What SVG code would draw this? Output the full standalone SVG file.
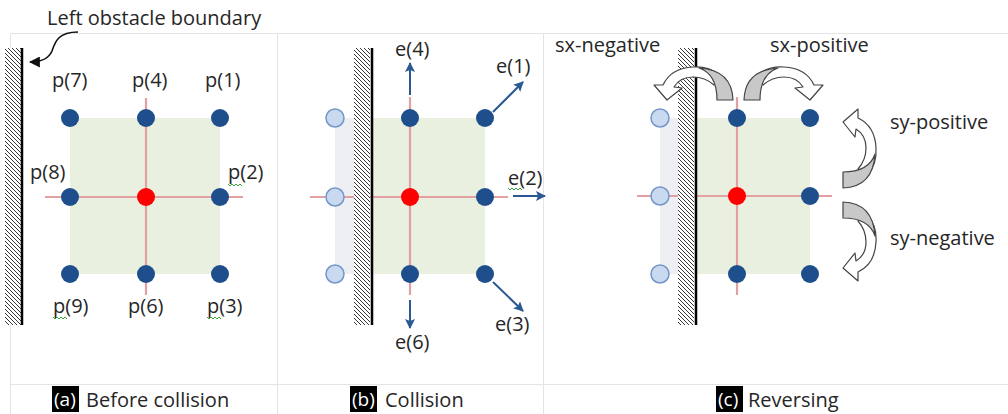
<svg xmlns="http://www.w3.org/2000/svg" width="1008" height="414" viewBox="0 0 1008 414">
<defs>
<pattern id="hatch" patternUnits="userSpaceOnUse" width="4" height="4">
<rect width="4" height="4" fill="#fff"/>
<path d="M0,0 L4,4 M-1,3 L1,5 M3,-1 L5,1" stroke="#222" stroke-width="0.9"/>
</pattern>
<marker id="ah" viewBox="0 0 10 10" refX="9" refY="5" markerWidth="10" markerHeight="10" markerUnits="userSpaceOnUse" orient="auto">
<path d="M0,0 L10,5 L0,10 L2,5 Z" fill="#2B5A93"/>
</marker>
<marker id="ahk" viewBox="0 0 10 10" refX="9" refY="5" markerWidth="11" markerHeight="11" markerUnits="userSpaceOnUse" orient="auto">
<path d="M0,0 L10,5 L0,10 Z" fill="#111"/>
</marker>
<g id="carrow">
<path d="M14,-25 Q24,-34 40,-33 Q62,-32 70,-15 L79,-15 L66,0 L51,-12 L59,-13 Q53,-23 40,-23 Q28,-23 19,-15 Z" fill="#fff" stroke="#444" stroke-width="1.2" stroke-linejoin="round"/>
<path d="M0,0 Q1,-30 34,-32 Q16,-26 16,0 Z" fill="#C8C8C8" stroke="#444" stroke-width="1.2" stroke-linejoin="round"/>
</g>
</defs>
<style>
text{font-family:"Open Sans","Liberation Sans",Arial,sans-serif;fill:#262626;font-size:20px}
.cap{font-size:20px}
.capbox{fill:#000}
.capt{fill:#fff;font-size:19px}
.grid{fill:none;stroke:#E4E4E4;stroke-width:1}
.green{fill:#E9F0DF}
.gray{fill:#EEEFF2}
.cross{stroke:#E2A0A0;stroke-width:2.2}
.dark{fill:#1F4E8C}
.light{fill:#C9DAF0;stroke:#7396C9;stroke-width:1.5}
.red{fill:#FF0000}
.hatch{fill:url(#hatch)}
.wall{stroke:#000;stroke-width:2.5}
.vec{stroke:#2B5A93;stroke-width:2;fill:none;marker-end:url(#ah)}
.squig{fill:none;stroke:#3DA33D;stroke-width:1}
</style>
<rect width="1008" height="414" fill="#fff"/>
<g id="frame">
<path class="grid" d="M10.5,33.5 H1008 M10.5,33.5 V414 M277.5,33.5 V414 M543.5,33.5 V414 M10.5,384.5 H1008"/>
</g>

<g id="panel-a">
<rect class="green" x="70" y="118" width="150" height="156"/>
<line class="cross" x1="146" y1="98" x2="146" y2="295"/>
<line class="cross" x1="45" y1="197" x2="243" y2="197"/>
<rect class="hatch" x="5" y="48" width="16" height="277"/>
<line class="wall" x1="22" y1="48" x2="22" y2="325"/>
<g id="a-p7"><circle class="dark" cx="70" cy="118" r="9"/><text x="52" y="87">p(7)</text></g>
<g id="a-p4"><circle class="dark" cx="146" cy="118" r="9"/><text x="132" y="87">p(4)</text></g>
<g id="a-p1"><circle class="dark" cx="220" cy="118" r="9"/><text x="205" y="87">p(1)</text></g>
<g id="a-p8"><circle class="dark" cx="70" cy="197" r="9"/><text x="30" y="179">p(8)</text></g>
<g id="a-c"><circle class="red" cx="146" cy="197" r="9"/></g>
<g id="a-p2"><circle class="dark" cx="220" cy="197" r="9"/><text x="228" y="179">p(2)</text></g>
<g id="a-p9"><circle class="dark" cx="70" cy="274" r="9"/><text x="53" y="313">p(9)</text></g>
<g id="a-p6"><circle class="dark" cx="146" cy="274" r="9"/><text x="128" y="313">p(6)</text></g>
<g id="a-p3"><circle class="dark" cx="220" cy="274" r="9"/><text x="207" y="313">p(3)</text></g>
<g id="label-boundary"><text x="47" y="25">Left obstacle boundary</text></g>
<path class="squig" d="M228,184 l2,2 l2,-2 l2,2 l2,-2 l2,2 l2,-2 l2,2"/>
<path class="squig" d="M53,317 l2,2 l2,-2 l2,2 l2,-2 l2,2 l2,-2 l2,2"/>
<path class="squig" d="M207,317 l2,2 l2,-2 l2,2 l2,-2 l2,2 l2,-2 l2,2"/>
<g id="cap-a"><rect class="capbox" x="52" y="386" width="27" height="26"/><text class="capt" x="54" y="406">(a)</text><text class="cap" x="86" y="407">Before collision</text></g>
</g>

<g id="panel-b">
<rect class="gray" x="335" y="118" width="37" height="156"/>
<rect class="green" x="372" y="118" width="113" height="156"/>
<line class="cross" x1="410" y1="97" x2="410" y2="295"/>
<line class="cross" x1="310" y1="197" x2="508" y2="197"/>
<rect class="hatch" x="354" y="48" width="16" height="277"/>
<line class="wall" x1="372" y1="48" x2="372" y2="325"/>
<g id="b-l1"><circle class="light" cx="335" cy="118" r="9"/></g>
<g id="b-l2"><circle class="light" cx="335" cy="197" r="9"/></g>
<g id="b-l3"><circle class="light" cx="335" cy="274" r="9"/></g>
<g id="b-n4"><circle class="dark" cx="410" cy="118" r="9"/></g>
<g id="b-n1"><circle class="dark" cx="485" cy="118" r="9"/></g>
<g id="b-c"><circle class="red" cx="410" cy="197" r="9"/></g>
<g id="b-n2"><circle class="dark" cx="485" cy="197" r="9"/></g>
<g id="b-n6"><circle class="dark" cx="410" cy="274" r="9"/></g>
<g id="b-n3"><circle class="dark" cx="485" cy="274" r="9"/></g>
<g id="b-e4"><text x="395" y="56">e(4)</text></g>
<g id="b-e1"><text x="496" y="73">e(1)</text></g>
<g id="b-e2"><text x="508" y="185">e(2)</text></g>
<g id="b-e3"><text x="495" y="331">e(3)</text></g>
<g id="b-e6"><text x="395" y="349">e(6)</text></g>
<path class="squig" d="M508,188 l2,2 l2,-2 l2,2 l2,-2 l2,2 l2,-2 l2,2"/>
<g id="cap-b"><rect class="capbox" x="350" y="386" width="27" height="26"/><text class="capt" x="352" y="406">(b)</text><text class="cap" x="385" y="407">Collision</text></g>
</g>

<g id="panel-c">
<rect class="gray" x="660" y="118" width="36" height="156"/>
<rect class="green" x="696" y="118" width="114" height="156"/>
<line class="cross" x1="737" y1="97" x2="737" y2="295"/>
<line class="cross" x1="637" y1="196" x2="832" y2="196"/>
<rect class="hatch" x="678" y="48" width="16" height="277"/>
<line class="wall" x1="696" y1="48" x2="696" y2="325"/>
<g id="c-l1"><circle class="light" cx="660" cy="118" r="9"/></g>
<g id="c-l2"><circle class="light" cx="660" cy="196" r="9"/></g>
<g id="c-l3"><circle class="light" cx="660" cy="274" r="9"/></g>
<g id="c-n4"><circle class="dark" cx="737" cy="118" r="9"/></g>
<g id="c-n1"><circle class="dark" cx="810" cy="118" r="9"/></g>
<g id="c-c"><circle class="red" cx="737" cy="196" r="9"/></g>
<g id="c-n2"><circle class="dark" cx="810" cy="196" r="9"/></g>
<g id="c-n6"><circle class="dark" cx="737" cy="274" r="9"/></g>
<g id="c-n3"><circle class="dark" cx="810" cy="274" r="9"/></g>
<g id="sx-negative"><use href="#carrow" transform="translate(733,100) scale(-1,1)"/><text x="555" y="52">sx-negative</text></g>
<g id="sx-positive"><use href="#carrow" transform="translate(744,100)"/><text x="770" y="52">sx-positive</text></g>
<g id="sy-positive"><use href="#carrow" transform="matrix(0,-1,-1,0,843,188)"/><text x="890" y="129">sy-positive</text></g>
<g id="sy-negative"><use href="#carrow" transform="matrix(0,1,-1,0,843,202)"/><text x="890" y="245">sy-negative</text></g>
<g id="cap-c"><rect class="capbox" x="716" y="386" width="27" height="26"/><text class="capt" x="718" y="406">(c)</text><text class="cap" x="748" y="407">Reversing</text></g>
</g>

<g id="connectors">
<path d="M78,32 C58,32 55,42 52,51 C49,58 42,62 30,62" fill="none" stroke="#111" stroke-width="1.6" marker-end="url(#ahk)"/>
<line class="vec" x1="410" y1="95" x2="410" y2="63"/>
<line class="vec" x1="493" y1="112" x2="523" y2="82"/>
<line class="vec" x1="513" y1="196" x2="545" y2="196"/>
<line class="vec" x1="493" y1="282" x2="523" y2="311"/>
<line class="vec" x1="410" y1="300" x2="410" y2="328"/>
</g>
</svg>
